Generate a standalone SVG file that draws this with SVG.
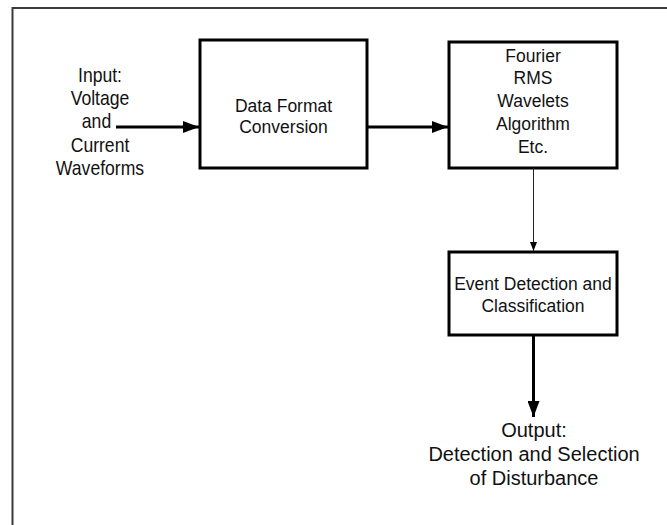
<svg xmlns="http://www.w3.org/2000/svg" width="667" height="525" viewBox="0 0 667 525">
<style>
.box{fill:#fff;stroke:#000;stroke-width:3}
.t{font-family:"Liberation Sans",Arial,sans-serif;fill:#111;text-anchor:middle}
.big{font-size:20px}
.mid{font-size:17.5px}
.thick{stroke:#000;stroke-width:3;fill:none}
.thin{stroke:#222;stroke-width:1;fill:none}
</style>
<defs>
<marker id="ah" markerUnits="userSpaceOnUse" markerWidth="16" markerHeight="12" refX="16" refY="6" orient="auto">
<path d="M0,0 L16,6 L0,12 Z" fill="#000"/>
</marker>
<marker id="ahs" markerUnits="userSpaceOnUse" markerWidth="9" markerHeight="7" refX="9" refY="3.5" orient="auto">
<path d="M0,0 L9,3.5 L0,7 Z" fill="#000"/>
</marker>
</defs>
<rect width="667" height="525" fill="#fff"/>
<path d="M12.5,525 V8 H667" fill="none" stroke="#3a3a3a" stroke-width="2"/>
<g id="input" transform="translate(100,0) scale(0.88,1.04)">
<text class="t big" x="0" y="79">Input:</text>
<text class="t big" x="0" y="101">Voltage</text>
<text class="t big" x="-4" y="123">and</text>
<text class="t big" x="0" y="146">Current</text>
<text class="t big" x="0" y="168">Waveforms</text>
</g>
<g id="conversion">
<rect class="box" x="200" y="40" width="167" height="128"/>
<text class="t mid" x="283.5" y="112">Data Format</text>
<text class="t mid" x="283.5" y="133">Conversion</text>
</g>
<g id="methods">
<rect class="box" x="449" y="42" width="168" height="126"/>
<text class="t mid" x="533" y="62">Fourier</text>
<text class="t mid" x="533" y="84">RMS</text>
<text class="t mid" x="533" y="107">Wavelets</text>
<text class="t mid" x="533" y="130">Algorithm</text>
<text class="t mid" x="533" y="153">Etc.</text>
</g>
<g id="event">
<rect class="box" x="449" y="252" width="168" height="83"/>
<text class="t mid" x="533" y="290">Event Detection and</text>
<text class="t mid" x="533" y="311.5">Classification</text>
</g>
<g id="output">
<text class="t big" x="534" y="437">Output:</text>
<text class="t big" x="534" y="461">Detection and Selection</text>
<text class="t big" x="534" y="485">of Disturbance</text>
</g>
<g id="connectors">
<line class="thick" x1="116" y1="127" x2="199" y2="127" marker-end="url(#ah)"/>
<line class="thick" x1="367" y1="127" x2="448" y2="127" marker-end="url(#ah)"/>
<line class="thin" x1="533.5" y1="168" x2="533.5" y2="251" marker-end="url(#ahs)"/>
<line class="thick" x1="533.5" y1="335" x2="533.5" y2="417" marker-end="url(#ah)"/>
</g>
</svg>
